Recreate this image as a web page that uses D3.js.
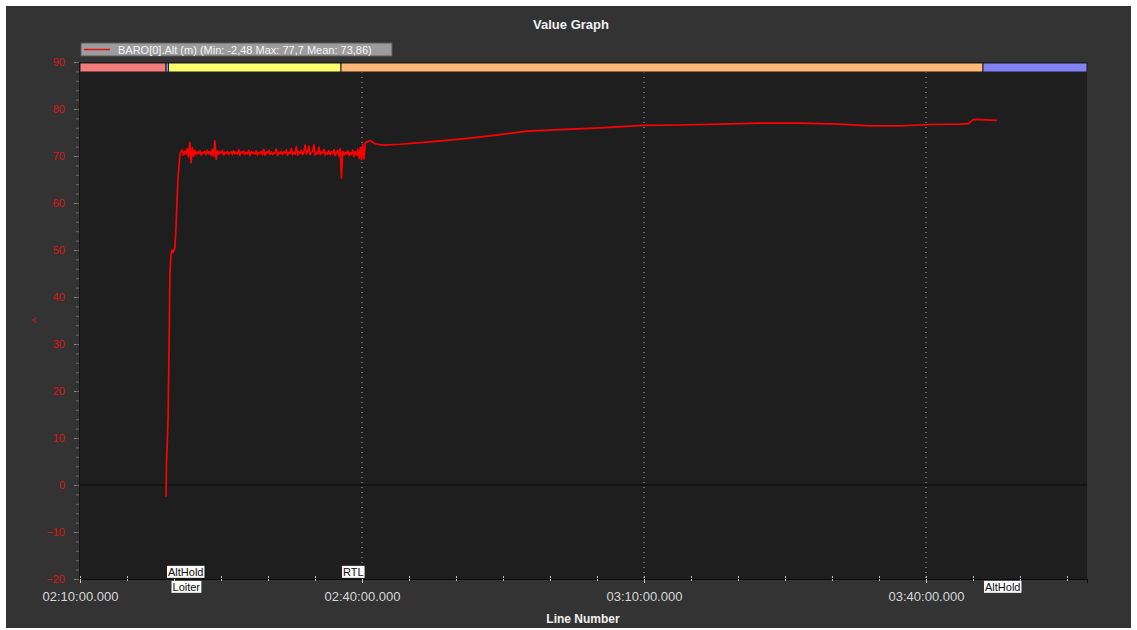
<!DOCTYPE html>
<html>
<head>
<meta charset="utf-8">
<script src="https://cdn.jsdelivr.net/npm/d3@7"></script>
<style>
  body { margin: 0; background: #fff; }
  text { font-family: "Liberation Sans", Arial, sans-serif; }
</style>
</head>
<body>
<div id="chart"></div>
<script>
// axis range and ticks
const startClock = "02:10:00", endClock = "03:57:08";
const xTickClocks = ["02:10:00", "02:40:00", "03:10:00", "03:40:00"];
const yTicks = [90, 80, 70, 60, 50, 40, 30, 20, 10, 0, -10, -20];

// flight modes
const modeNames = ["", "AltHold", "Loiter", "RTL", "AltHold"];
const modeStarts = ["02:10:00", "02:19:09", "02:19:25", "02:37:46", "03:46:04"];

// BARO[0].Alt, climb out
const climbClock = ["02:19:09", "02:19:12", "02:19:15", "02:19:22", "02:19:28", "02:19:34", "02:19:41",
  "02:19:47", "02:19:54", "02:20:06", "02:20:13", "02:20:25", "02:20:38"];
const climbAlt = [-2.48, 5, 7, 14, 28, 45, 49, 50, 49.5, 50.5, 55, 65, 70.5];

// loiter hold, logged every 8 s
const holdStart = "02:20:45", holdStep = 8;
const holdAlt = [
  70.9, 71.3, 70.2, 71.0, 70.4, 71.6, 69.8, 72.9, 68.6, 71.8, 69.9, 71.2, 70.3, 70.9, 70.5, 71.1, 70.2, 70.8, 70.6, 71.0,
  70.3, 71.2, 70.5, 70.9, 70.1, 71.4, 70.0, 73.2, 69.3, 71.1, 70.4, 70.9, 70.6, 71.2, 70.2, 70.8, 70.5, 71.0, 70.4, 70.7,
  70.9, 70.3, 71.1, 70.5, 70.8, 70.4, 71.3, 70.2, 70.9, 70.6, 71.0, 70.3, 70.8, 70.5, 71.2, 70.1, 70.9, 70.6, 70.8, 70.4,
  71.1, 70.2, 70.7, 70.5, 71.0, 70.3, 71.4, 70.2, 70.8, 70.6, 71.2, 70.4, 70.9, 70.3, 70.7, 70.6, 71.5, 70.1, 70.8, 70.5,
  71.0, 70.3, 70.9, 70.6, 71.3, 70.2, 70.7, 70.5, 71.6, 70.3, 70.8, 70.4, 72.0, 70.2, 70.9, 70.5, 71.2, 70.3, 70.8, 72.3,
  70.4, 70.9, 72.1, 70.3, 70.7, 71.0, 72.4, 70.2, 70.8, 70.5, 71.9, 70.3, 70.9, 70.6, 71.4, 70.2, 70.8, 70.4, 71.1, 70.3,
  70.9, 70.5, 71.3, 70.1, 70.7, 71.2, 70.0, 71.5, 65.3, 71.0, 70.2, 70.8, 70.4, 71.1, 70.1, 70.7, 70.3, 71.2, 69.9, 70.9,
  70.2, 71.4, 69.5, 71.8, 69.2, 72.5, 69.4, 72.9
];

// RTL and final AltHold
const returnClock = ["02:40:32", "02:40:51", "02:41:23", "02:42:14", "02:44:03", "02:47:14", "02:50:26",
  "02:53:37", "02:55:45", "02:57:33", "03:01:04", "03:05:19", "03:09:54", "03:13:50", "03:18:05",
  "03:22:20", "03:26:36", "03:30:51", "03:34:03", "03:37:14", "03:40:26", "03:43:37", "03:44:34",
  "03:44:54", "03:45:13", "03:47:33"];
const returnAlt = [73.0, 73.3, 72.6, 72.3, 72.5, 73.0, 73.6, 74.3, 74.8, 75.3, 75.6, 76.0, 76.5, 76.6, 76.8,
  77.0, 77.0, 76.8, 76.4, 76.4, 76.7, 76.8, 76.9, 77.6, 77.8, 77.6];

const modeColor = { "": "#f27b7b", "AltHold": "#8282f5", "Loiter": "#ffff6e", "RTL": "#ffb878" };

const secs = c => { const p = c.split(":").map(Number); return p[0] * 3600 + p[1] * 60 + p[2]; };
const pad = n => String(n).padStart(2, "0");
const clockFmt = s => `${pad(Math.floor(s / 3600))}:${pad(Math.floor(s / 60) % 60)}:${pad(Math.round(s % 60))}.000`;

const series = [];
climbClock.forEach((c, i) => series.push({ t: secs(c), v: climbAlt[i] }));
holdAlt.forEach((v, i) => series.push({ t: secs(holdStart) + i * holdStep, v: v }));
returnClock.forEach((c, i) => series.push({ t: secs(c), v: returnAlt[i] }));

const W = 1137, H = 630;
const plot = { left: 80, right: 1087, top: 62, bottom: 579 };

const svg = d3.select("#chart").append("svg")
  .attr("width", W).attr("height", H);

// outer panel
svg.append("rect").attr("x", 6).attr("y", 6).attr("width", 1125).attr("height", 622).attr("fill", "#333333");
svg.append("rect").attr("x", plot.left).attr("y", plot.top)
  .attr("width", plot.right - plot.left).attr("height", plot.bottom - plot.top).attr("fill", "#1e1e1e");

const x = d3.scaleLinear().domain([secs(startClock), secs(endClock)]).range([plot.left, plot.right]);
const y = d3.scaleLinear().domain([-20, 90]).range([plot.bottom, plot.top]);

// vertical dotted grid at major ticks
svg.append("g").selectAll("line")
  .data(xTickClocks.slice(1).map(secs))
  .join("line")
  .attr("x1", d => x(d)).attr("x2", d => x(d))
  .attr("y1", plot.top + 10).attr("y2", plot.bottom)
  .attr("stroke", "#b4b4b4").attr("stroke-width", 1).attr("stroke-dasharray", "1,4");

// zero line
svg.append("line")
  .attr("x1", plot.left).attr("x2", plot.right)
  .attr("y1", y(0)).attr("y2", y(0))
  .attr("stroke", "#0a0a0a").attr("stroke-width", 1);

// mode band
const modeSecs = modeStarts.map(secs);
const modes = modeNames.map((n, i) => ({
  name: n, t0: modeSecs[i], t1: i < modeSecs.length - 1 ? modeSecs[i + 1] : secs(endClock)
}));
svg.append("g").selectAll("rect")
  .data(modes)
  .join("rect")
  .attr("x", d => x(d.t0)).attr("y", plot.top + 1)
  .attr("width", d => Math.max(0, x(d.t1) - x(d.t0)))
  .attr("height", 9)
  .attr("fill", d => modeColor[d.name])
  .attr("stroke", "#1e1e1e").attr("stroke-width", 1);

// Y axis
const yAxis = svg.append("g")
  .attr("transform", `translate(${plot.left - 1},0)`)
  .call(d3.axisLeft(y).tickValues(yTicks).tickSize(5).tickPadding(9));
yAxis.select(".domain").attr("stroke", "#151515");
yAxis.selectAll(".tick line").attr("stroke", "#8a8a8a");
yAxis.selectAll(".tick text").attr("fill", "#d81818").attr("font-size", 11)
  .attr("font-family", "Liberation Sans, Arial, sans-serif");
const yMinor = svg.append("g")
  .attr("transform", `translate(${plot.left - 1},0)`)
  .call(d3.axisLeft(y).tickValues(d3.range(-20, 91, 2)).tickSize(3).tickFormat(""));
yMinor.select(".domain").remove();
yMinor.selectAll(".tick line").attr("stroke", "#6a6a6a");

// X axis
const xMajor = xTickClocks.map(secs);
const xAxis = svg.append("g")
  .attr("transform", `translate(0,${plot.bottom})`)
  .call(d3.axisBottom(x).tickValues(xMajor).tickFormat(clockFmt).tickSize(4).tickPadding(9));
xAxis.select(".domain").attr("stroke", "#0a0a0a");
xAxis.selectAll(".tick line").attr("stroke", "#cfcfcf");
xAxis.selectAll(".tick text").attr("fill", "#d8d8d8").attr("font-size", 13)
  .attr("font-family", "Liberation Sans, Arial, sans-serif");
const xMinor = svg.append("g")
  .attr("transform", `translate(0,${plot.bottom - 3})`)
  .call(d3.axisBottom(x).tickValues(d3.range(secs(startClock), secs(endClock), 300)).tickSize(5).tickFormat(""));
xMinor.select(".domain").remove();
xMinor.selectAll(".tick line").attr("stroke", "#bdbdbd").attr("stroke-dasharray", "2,1");

// altitude line
svg.append("path")
  .datum(series)
  .attr("fill", "none")
  .attr("stroke", "#ff0000")
  .attr("stroke-width", 1.7)
  .attr("stroke-linejoin", "round")
  .attr("d", d3.line().x(d => x(d.t)).y(d => y(d.v)));

// mode labels along the x axis
const labelled = modes.filter(d => d.name !== "");
const lab = svg.append("g").selectAll("g")
  .data(labelled)
  .join("g")
  .attr("transform", (d, i) => `translate(${x(d.t0) + (i === 1 ? 2 : 0)},${i % 2 === 0 ? plot.bottom - 7 : plot.bottom + 8})`);
lab.append("text")
  .attr("x", 2).attr("y", 0)
  .attr("dy", "0.35em")
  .attr("font-size", 11)
  .attr("fill", "#111")
  .text(d => d.name)
  .each(function () {
    const b = this.getBBox();
    d3.select(this.parentNode).insert("rect", "text")
      .attr("x", b.x - 1).attr("y", b.y)
      .attr("width", b.width + 2).attr("height", b.height)
      .attr("fill", "#fafafa");
  });

// legend
svg.append("rect").attr("x", 81).attr("y", 43).attr("width", 311).attr("height", 13)
  .attr("fill", "#9c9c9c").attr("stroke", "#5a5a5a");
svg.append("line").attr("x1", 84).attr("x2", 110).attr("y1", 49.5).attr("y2", 49.5)
  .attr("stroke", "#e01010").attr("stroke-width", 1.5);
svg.append("text").attr("x", 118).attr("y", 53.5)
  .attr("font-size", 11).attr("fill", "#f4f4f4")
  .text("BARO[0].Alt (m)  (Min: -2,48 Max: 77,7 Mean: 73,86)");

// titles
svg.append("text").attr("x", 571).attr("y", 29).attr("text-anchor", "middle")
  .attr("font-size", 13).attr("font-weight", "bold").attr("fill", "#f0f0f0")
  .text("Value Graph");
svg.append("text").attr("x", 583).attr("y", 623).attr("text-anchor", "middle")
  .attr("font-size", 12).attr("font-weight", "bold").attr("fill", "#f0f0f0")
  .text("Line Number");
svg.append("text")
  .attr("transform", "translate(36,320) rotate(-90)")
  .attr("text-anchor", "middle")
  .attr("font-size", 8).attr("fill", "#c81818")
  .text("A");
</script>
</body>
</html>
